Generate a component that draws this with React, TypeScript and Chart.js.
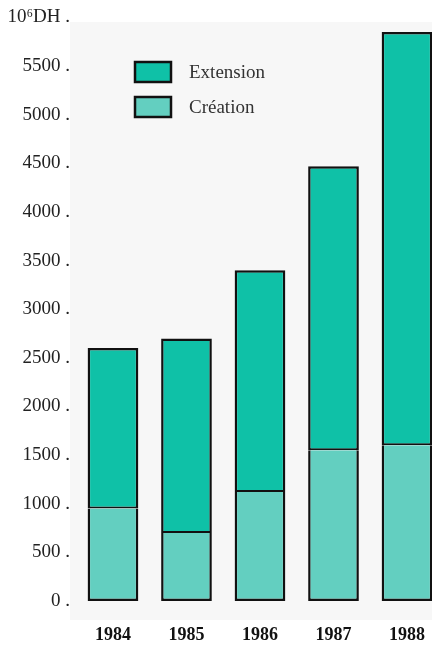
import React, { useEffect, useRef } from "react";
import { Chart, registerables } from "chart.js";

Chart.register(...registerables);

const YEARS = [1984, 1985, 1986, 1987, 1988];
const CREATION = [950, 700, 1120, 1550, 1600];
const EXTENSION = [1650, 2000, 2280, 2920, 4250];
const Y_TICKS = [0, 500, 1000, 1500, 2000, 2500, 3000, 3500, 4000, 4500, 5000, 5500, 6000];
const Y_UNIT_LABEL = "10⁶DH";
const SERIES_NAMES = ["Création", "Extension"];

const COLOR_CREATION = "#63cfc0";
const COLOR_EXTENSION = "#0fc1a7";
const SERIF = "'Liberation Serif', 'Times New Roman', serif";

const backgroundPlugin = {
  id: "paperBg",
  beforeDraw(chart: any) {
    const ctx = chart.ctx;
    ctx.save();
    ctx.fillStyle = "#ffffff";
    ctx.fillRect(0, 0, chart.width, chart.height);
    ctx.fillStyle = "#f7f7f7";
    ctx.fillRect(70, 22, chart.width - 70, 598);
    ctx.restore();
  },
};

const legendPlugin = {
  id: "boxLegend",
  afterDraw(chart: any) {
    const ctx = chart.ctx;
    const items = [
      { label: chart.data.datasets[1].label, color: chart.data.datasets[1].backgroundColor, y: 62 },
      { label: chart.data.datasets[0].label, color: chart.data.datasets[0].backgroundColor, y: 97 },
    ];
    ctx.save();
    items.forEach((it) => {
      ctx.fillStyle = it.color;
      ctx.fillRect(135, it.y, 36, 20);
      ctx.strokeStyle = "#111";
      ctx.lineWidth = 2.5;
      ctx.strokeRect(135, it.y, 36, 20);
      ctx.fillStyle = "#333";
      ctx.font = `19px ${SERIF}`;
      ctx.textBaseline = "middle";
      ctx.textAlign = "left";
      ctx.fillText(it.label, 189, it.y + 11);
    });
    ctx.restore();
  },
};

export default function App() {
  const ref = useRef<HTMLCanvasElement | null>(null);

  useEffect(() => {
    if (!ref.current) return;
    const chart = new Chart(ref.current, {
      type: "bar",
      data: {
        datasets: [
          {
            label: SERIES_NAMES[0],
            data: YEARS.map((x, i) => ({ x, y: CREATION[i] })),
            backgroundColor: COLOR_CREATION,
            borderColor: "#111",
            borderWidth: { top: 0, left: 2.5, right: 2.5, bottom: 2.5 },
            borderSkipped: false,
          },
          {
            label: SERIES_NAMES[1],
            data: YEARS.map((x, i) => ({ x, y: EXTENSION[i] })),
            backgroundColor: COLOR_EXTENSION,
            borderColor: "#111",
            borderWidth: { top: 2.5, left: 2.5, right: 2.5, bottom: 2 },
            borderSkipped: false,
          },
        ] as any,
      },
      options: {
        responsive: false,
        animation: false,
        layout: { padding: { top: 2, right: 0, left: 0, bottom: 0 } },
        datasets: { bar: { categoryPercentage: 1, barPercentage: 0.69 } } as any,
        plugins: {
          legend: { display: false },
          tooltip: { enabled: false },
        },
        scales: {
          x: {
            type: "linear",
            stacked: true,
            offset: false,
            min: 1983.497,
            max: 1988.34,
            grid: { display: false, drawTicks: false },
            border: { display: false },
            afterBuildTicks: (scale: any) => {
              scale.ticks = YEARS.map((value) => ({ value }));
            },
            afterFit: (scale: any) => {
              scale.height = 48;
              scale.paddingLeft = 0;
              scale.paddingRight = 0;
            },
            ticks: {
              padding: 24,
              color: "#111",
              font: { family: SERIF, size: 18, weight: "bold" },
              callback: (v: any) => String(v),
              maxRotation: 0,
              autoSkip: false,
            },
          },
          y: {
            stacked: true,
            min: 0,
            max: 6000,
            grid: { display: false, drawTicks: false },
            border: { display: false },
            afterBuildTicks: (scale: any) => {
              scale.ticks = Y_TICKS.map((value) => ({ value }));
            },
            afterFit: (scale: any) => {
              scale.width = 76;
            },
            ticks: {
              padding: 6,
              color: "#222",
              font: { family: SERIF, size: 19 },
              callback: (v: any) => (v === 6000 ? `${Y_UNIT_LABEL} .` : `${v} .`),
            },
          },
        },
      } as any,
      plugins: [backgroundPlugin, legendPlugin],
    });
    return () => chart.destroy();
  }, []);

  return (
    <div style={{ position: "fixed", left: 0, top: 0, width: 432, height: 649, background: "#fff" }}>
      <canvas ref={ref} width={432} height={649} style={{ display: "block" }} />
    </div>
  );
}
